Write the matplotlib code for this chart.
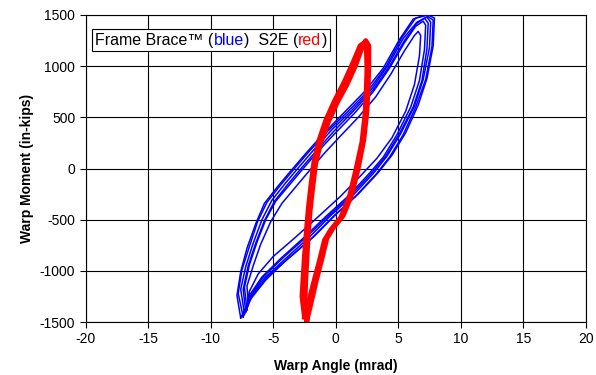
import matplotlib
matplotlib.use("Agg")
import matplotlib.pyplot as plt
from matplotlib.offsetbox import TextArea, HPacker, AnchoredOffsetbox

plt.rcParams["font.family"] = ["Liberation Sans", "DejaVu Sans"]
plt.rcParams["axes.unicode_minus"] = False

# Frame Brace cycles (blue): warp angle (mrad), moment (in-kips)
blue_x1 = [-7.4, -7.8, -7.5, -6.9, -6.25, -5.5, -4.4, -3.3, -2.1, -0.6, 1.0, 2.6, 4.0, 5.3, 6.4, 7.4,
           7.9, 7.8, 7.3, 6.6, 5.6, 4.5, 3.4, 1.8, 0.0, -1.7, -3.8, -5.5, -6.7, -7.4]
blue_y1 = [-1450, -1220, -990, -760, -520, -330, -160, 0, 170, 370, 560, 760, 990, 1280, 1470, 1500,
           1470, 1200, 880, 620, 350, 130, -40, -250, -450, -660, -880, -1060, -1250, -1450]

blue_x2 = [-7.3, -7.6, -7.2, -6.6, -5.9, -5.1, -4.0, -2.9, -1.7, -0.3, 1.3, 2.9, 4.2, 5.4, 6.5, 7.3,
           7.6, 7.5, 7.0, 6.3, 5.2, 4.1, 3.0, 1.4, -0.4, -2.1, -4.1, -5.7, -6.8, -7.3]
blue_y2 = [-1420, -1180, -960, -730, -500, -310, -140, 20, 190, 380, 570, 780, 1010, 1270, 1430, 1480,
           1430, 1180, 870, 610, 340, 120, -50, -260, -460, -670, -890, -1070, -1250, -1420]

blue_x3 = [-7.1, -7.3, -6.9, -6.3, -5.6, -4.8, -3.7, -2.6, -1.4, 0.0, 1.5, 3.0, 4.3, 5.5, 6.4, 7.0,
           7.2, 7.1, 6.7, 6.0, 4.9, 3.8, 2.6, 1.0, -0.8, -2.5, -4.4, -5.9, -6.9, -7.1]
blue_y3 = [-1380, -1160, -940, -720, -500, -320, -160, 0, 170, 350, 540, 750, 980, 1230, 1390, 1440,
           1400, 1160, 860, 600, 330, 110, -60, -270, -470, -670, -880, -1060, -1240, -1380]

blue_x4 = [-7.0, -7.1, -6.6, -6.0, -5.2, -4.3, -3.2, -2.1, -0.9, 0.4, 1.8, 3.2, 4.4, 5.5, 6.3, 6.6,
           6.8, 6.7, 6.3, 5.6, 4.5, 3.3, 2.0, 0.4, -1.3, -3.2, -5.0, -6.2, -6.9, -7.0]
blue_y4 = [-1300, -1150, -950, -740, -520, -340, -180, -20, 150, 320, 500, 700, 920, 1150, 1300, 1340,
           1300, 1100, 820, 560, 300, 100, -70, -270, -460, -670, -860, -1030, -1200, -1300]

blue_x5 = [-7.6, -7.9, -7.6, -7.1, -6.4, -5.7, -4.6, -3.5, -2.3, -0.9, 0.7, 2.3, 3.8, 5.1, 6.2, 7.2,
           7.8, 7.7, 7.2, 6.4, 5.4, 4.3, 3.2, 1.6, -0.2, -1.9, -4.0, -5.6, -6.9, -7.6]
blue_y5 = [-1460, -1240, -1010, -780, -540, -340, -170, -10, 160, 350, 550, 750, 980, 1260, 1460, 1500,
           1450, 1190, 870, 600, 330, 110, -60, -270, -470, -680, -900, -1090, -1290, -1460]

blue_x6 = [-7.2, -7.4, -7.0, -6.4, -5.7, -4.9, -3.8, -2.7, -1.5, -0.1, 1.4, 3.0, 4.3, 5.5, 6.5, 7.1,
           7.4, 7.3, 6.9, 6.2, 5.1, 4.0, 2.8, 1.2, -0.6, -2.3, -4.2, -5.8, -6.8, -7.2]
blue_y6 = [-1400, -1180, -950, -730, -510, -320, -150, 10, 180, 370, 560, 770, 1000, 1250, 1420, 1470,
           1420, 1170, 860, 600, 340, 120, -55, -265, -465, -665, -870, -1060, -1240, -1400]

# S2E cycles (red)
red_x1 = [-2.3, -2.45, -2.4, -2.3, -2.2, -2.05, -1.85, -1.6, -1.2, -0.6, 0.1, 0.9, 1.6, 2.1, 2.4,
          2.65, 2.65, 2.6, 2.5, 2.25, 1.8, 1.3, 0.6, -0.2, -0.7, -1.1, -1.6, -2.0, -2.3]
red_y1 = [-1480, -1300, -1100, -880, -650, -420, -200, 50, 250, 450, 640, 820, 1010, 1180, 1250,
          1200, 1000, 800, 560, 280, 0, -250, -460, -580, -680, -880, -1120, -1330, -1480]

red_x2 = [-2.5, -2.7, -2.6, -2.5, -2.35, -2.2, -2.0, -1.75, -1.35, -0.8, -0.1, 0.7, 1.4, 1.95, 2.3,
          2.45, 2.5, 2.45, 2.35, 2.1, 1.6, 1.1, 0.4, -0.4, -0.9, -1.3, -1.8, -2.2, -2.5]
red_y2 = [-1450, -1250, -1050, -850, -620, -400, -180, 60, 270, 470, 660, 850, 1040, 1200, 1230,
          1170, 980, 780, 540, 260, -20, -270, -480, -600, -700, -900, -1130, -1320, -1450]

x_ticks = [-20, -15, -10, -5, 0, 5, 10, 15, 20]
y_ticks = [-1500, -1000, -500, 0, 500, 1000, 1500]

fig = plt.figure(figsize=(5.96, 3.75), dpi=100)
ax = fig.add_axes([0.1438, 0.1413, 0.8389, 0.8187])

blue_loops = [(blue_x1, blue_y1), (blue_x2, blue_y2), (blue_x3, blue_y3),
              (blue_x4, blue_y4), (blue_x5, blue_y5), (blue_x6, blue_y6)]
for bx, by in blue_loops:
    ax.plot(bx, by, color="#0000ff", lw=1.1, zorder=3)
for rx, ry in [(red_x1, red_y1), (red_x2, red_y2)]:
    ax.plot(rx, ry, color="#ff0000", lw=3.5, zorder=4)

ax.set_xlim(-20, 20)
ax.set_ylim(-1500, 1500)
ax.set_xticks(x_ticks)
ax.set_yticks(y_ticks)
ax.grid(True, color="black", lw=0.8)
ax.set_axisbelow(True)
for s in ax.spines.values():
    s.set_color("black")
    s.set_linewidth(0.8)
ax.tick_params(direction="out", length=4, width=0.8, labelsize=10, colors="black")
ax.set_xlabel("Warp Angle (mrad)", fontsize=10, fontweight="bold", labelpad=9)
ax.set_ylabel("Warp Moment (in-kips)", fontsize=10, fontweight="bold", labelpad=4)

# legend-like caption with coloured words
fs = 11.5
parts = [("Frame Brace\u2122 (", "black"), ("blue", "#0000ff"), (")  S2E (", "black"),
         ("red", "#ff0000"), (")", "black")]
areas = [TextArea(t, textprops=dict(color=c, fontsize=fs)) for t, c in parts]
box = HPacker(children=areas, align="baseline", pad=0, sep=0)
anchored = AnchoredOffsetbox(loc="upper left", child=box, pad=0.25, borderpad=0,
                             bbox_to_anchor=(0.0126, 0.954), bbox_transform=ax.transAxes,
                             frameon=True)
anchored.patch.set_edgecolor("black")
anchored.patch.set_linewidth(0.8)
anchored.patch.set_boxstyle("square", pad=0)
anchored.zorder = 6
ax.add_artist(anchored)

fig.savefig("out.png", dpi=100)
